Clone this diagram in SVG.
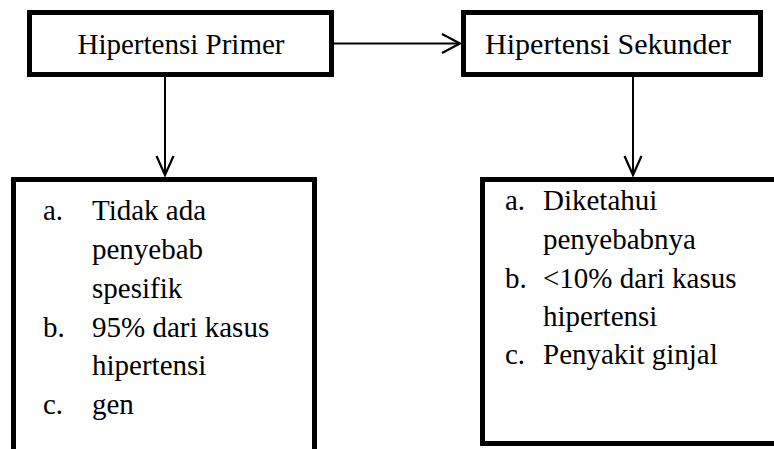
<svg xmlns="http://www.w3.org/2000/svg" width="774" height="449" viewBox="0 0 774 449">
<defs>
<style>
.box{fill:#fff;stroke:#000;stroke-width:5}
.t{font-size:29px;fill:#000}
.t30{font-size:30px;fill:#000}
.c{stroke:#000;stroke-width:2;fill:none}
.ah{stroke:#000;stroke-width:2.2;fill:none;stroke-linejoin:miter}
</style>
</defs>
<rect width="774" height="449" fill="#fff"/>
<g font-family="'Liberation Serif', 'DejaVu Serif', serif">
<g id="node-primer">
<rect class="box" x="29.5" y="12.5" width="302" height="62"/>
<text class="t" x="181" y="54" text-anchor="middle">Hipertensi Primer</text>
</g>
<g id="node-sekunder">
<rect class="box" x="463.5" y="12.5" width="297" height="62"/>
<text class="t30" x="608" y="54" text-anchor="middle">Hipertensi Sekunder</text>
</g>
<g id="node-primer-detail">
<rect class="box" x="13.5" y="179.5" width="301" height="300"/>
<text class="t" x="43" y="220">a.</text>
<text class="t" x="92" y="220">Tidak ada</text>
<text class="t" x="92" y="259">penyebab</text>
<text class="t" x="92" y="298">spesifik</text>
<text class="t" x="43" y="337">b.</text>
<text class="t" x="92" y="337">95% dari kasus</text>
<text class="t" x="92" y="375">hipertensi</text>
<text class="t" x="43" y="414">c.</text>
<text class="t" x="92" y="414">gen</text>
</g>
<g id="node-sekunder-detail">
<rect class="box" x="482.5" y="179.5" width="320" height="264"/>
<text class="t" x="505" y="210">a.</text>
<text class="t" x="543" y="210">Diketahui</text>
<text class="t" x="543" y="249">penyebabnya</text>
<text class="t" x="505" y="288">b.</text>
<text class="t" x="543" y="288">&lt;10% dari kasus</text>
<text class="t" x="543" y="326">hipertensi</text>
<text class="t" x="505" y="364">c.</text>
<text class="t" x="543" y="364">Penyakit ginjal</text>
</g>
</g>
<g id="connectors">
<line class="c" x1="334" y1="43.5" x2="460" y2="43.5"/>
<polyline class="ah" points="442,34 460,43.5 442,53"/>
<line class="c" x1="165" y1="77" x2="165" y2="176"/>
<polyline class="ah" points="156.5,156 165,175 173.5,156"/>
<line class="c" x1="633" y1="77" x2="633" y2="176"/>
<polyline class="ah" points="624.5,156 633,175 641.5,156"/>
</g>
</svg>
